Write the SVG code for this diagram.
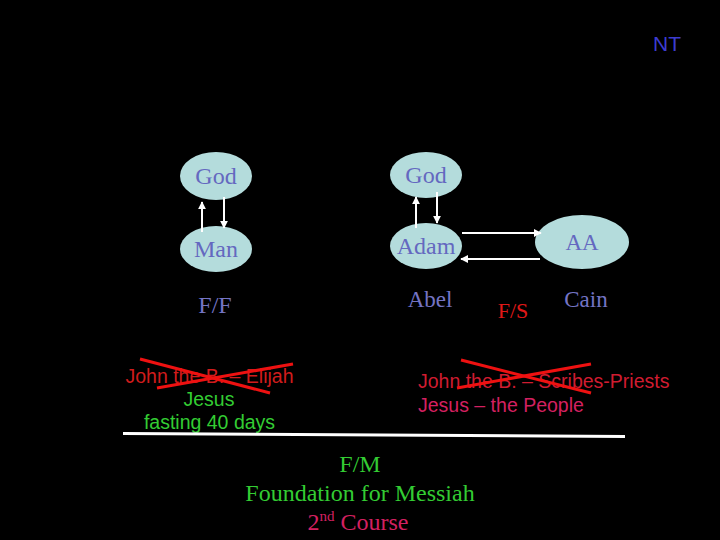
<svg xmlns="http://www.w3.org/2000/svg" width="720" height="540" viewBox="0 0 720 540">
<style>
.node{fill:#b4dcdc}
.nt{font-family:"Liberation Serif",serif;font-size:24px;fill:#6468c0;text-anchor:middle}
.lb{font-family:"Liberation Serif",serif;font-size:23px;fill:#7474c4;text-anchor:middle}
.ar{stroke:#ffffff;stroke-width:2;fill:none;marker-end:url(#ah)}
.sans{font-family:"Liberation Sans",Arial,sans-serif;font-size:19.5px}
.ser{font-family:"Liberation Serif",serif;font-size:24px;text-anchor:middle}
.x{stroke:#ee1111;stroke-width:3}
</style>
<defs>
<marker id="ah" viewBox="0 0 10 10" refX="9" refY="5" markerWidth="4" markerHeight="4" orient="auto">
<path d="M0,0 L10,5 L0,10 z" fill="#ffffff"/>
</marker>
</defs>
<rect width="720" height="540" fill="#000000"/>
<text x="667" y="51" font-family="Liberation Sans,Arial,sans-serif" font-size="21" fill="#3c3cd0" text-anchor="middle">NT</text>
<g id="god-left"><ellipse class="node" cx="216" cy="176" rx="36" ry="24"/><text class="nt" x="216" y="184">God</text></g>
<g id="man"><ellipse class="node" cx="216" cy="249" rx="36" ry="23"/><text class="nt" x="216" y="257">Man</text></g>
<g id="god-right"><ellipse class="node" cx="426" cy="175" rx="36" ry="23"/><text class="nt" x="426" y="183">God</text></g>
<g id="adam"><ellipse class="node" cx="426" cy="246" rx="36" ry="23"/><text class="nt" x="426" y="254">Adam</text></g>
<g id="aa"><ellipse class="node" cx="582" cy="242" rx="47" ry="27"/><text class="nt" x="582" y="250" style="font-size:23px">AA</text></g>
<g id="ff"><text class="lb" x="215" y="313" style="font-size:24px">F/F</text></g>
<g id="abel"><text class="lb" x="430" y="307">Abel</text></g>
<g id="cain"><text class="lb" x="586" y="307">Cain</text></g>
<g id="fs"><text x="513" y="318" font-family="Liberation Serif,serif" font-size="22" fill="#e01818" text-anchor="middle">F/S</text></g>
<g id="connectors">
<line class="ar" x1="202" y1="232" x2="202" y2="202"/>
<line class="ar" x1="224" y1="197" x2="224" y2="228"/>
<line class="ar" x1="416" y1="228" x2="416" y2="197"/>
<line class="ar" x1="437" y1="192" x2="437" y2="223"/>
<line class="ar" x1="462" y1="233" x2="541" y2="233"/>
<line class="ar" x1="540" y1="259" x2="461" y2="259"/>
</g>
<g id="left-block">
<text class="sans" x="209.5" y="383" fill="#d01c1c" text-anchor="middle">John the B. – Elijah</text>
<text class="sans" x="209" y="406" fill="#33cc33" text-anchor="middle">Jesus</text>
<text class="sans" x="209.5" y="429" fill="#33cc33" text-anchor="middle">fasting 40 days</text>
<line class="x" x1="140" y1="359" x2="270" y2="393"/>
<line class="x" x1="157" y1="388" x2="293" y2="364"/>
</g>
<g id="right-block">
<text class="sans" x="418" y="388" fill="#d01c30">John the B. – Scribes-Priests</text>
<text class="sans" x="418" y="412" fill="#d42060">Jesus – the People</text>
<line class="x" x1="461" y1="360" x2="591" y2="393"/>
<line class="x" x1="457" y1="388" x2="591" y2="364"/>
</g>
<line x1="123" y1="433.5" x2="625" y2="436.5" stroke="#ffffff" stroke-width="3"/>
<g id="bottom">
<text class="ser" x="360" y="472" fill="#33cc33">F/M</text>
<text class="ser" x="360" y="501" fill="#33cc33">Foundation for Messiah</text>
<text class="ser" x="358" y="530" fill="#d42060">2<tspan font-size="15" dy="-9">nd</tspan><tspan dy="9"> Course</tspan></text>
</g>
</svg>
